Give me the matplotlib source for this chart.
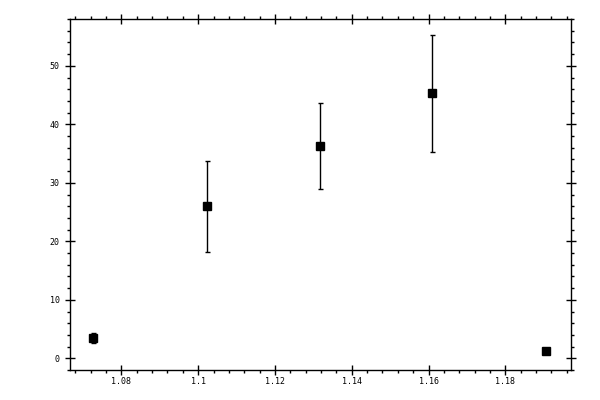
import matplotlib
matplotlib.use("Agg")
import matplotlib.pyplot as plt
from matplotlib.ticker import MultipleLocator

# data
x_vals = [1.0725, 1.1022, 1.1317, 1.1610, 1.1907]
y_vals = [3.55, 26.0, 36.3, 45.3, 1.3]
y_err = [0.85, 7.8, 7.3, 10.0, 0.3]

fig = plt.figure(figsize=(6, 4), dpi=100)
ax = fig.add_axes([0.116, 0.075, 0.835, 0.8775])

ax.errorbar(x_vals, y_vals, yerr=y_err, fmt='s', color='black',
            markersize=5.2, elinewidth=1.0, capsize=1.8, capthick=1.0)

ax.set_xlim(1.0665, 1.197)
ax.set_ylim(-2.0, 58.0)

ax.xaxis.set_major_locator(MultipleLocator(0.02))
ax.xaxis.set_minor_locator(MultipleLocator(0.004))
ax.yaxis.set_major_locator(MultipleLocator(10))
ax.yaxis.set_minor_locator(MultipleLocator(2))
ax.xaxis.set_major_formatter(plt.FuncFormatter(lambda v, p: ('%.2f' % v).rstrip('0').rstrip('.') if abs(v - round(v, 1)) > 1e-9 else '%.1f' % v))
ax.yaxis.set_major_formatter(plt.FuncFormatter(lambda v, p: '%d' % round(v)))

for s in ax.spines.values():
    s.set_linewidth(1.0)

ax.tick_params(which='major', direction='inout', length=6.5, width=1.0,
               top=True, right=True, labelsize=6, pad=2)
ax.tick_params(which='minor', direction='out', length=2.4, width=1.0,
               top=True, right=True)
ax.tick_params(axis='y', which='major', pad=4)
for lab in ax.get_xticklabels() + ax.get_yticklabels():
    lab.set_family('DejaVu Sans Mono')

fig.savefig("out.png", dpi=100)
